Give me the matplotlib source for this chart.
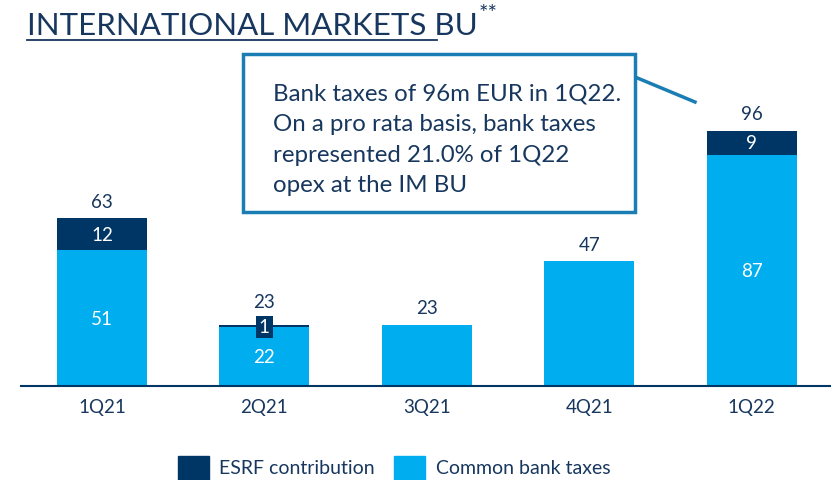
import matplotlib.pyplot as plt
import numpy as np
from matplotlib.patches import Rectangle
from matplotlib.lines import Line2D

plt.rcParams['font.family'] = ['Lato', 'DejaVu Sans']

quarters = ['1Q21', '2Q21', '3Q21', '4Q21', '1Q22']
common_taxes = [51, 22, 23, 47, 87]
esrf = [12, 1, 0, 0, 9]
totals = [63, 23, 23, 47, 96]

navy = '#003666'
light = '#00AEEF'
text_col = '#17375E'
box_col = '#1A7DB4'

fig = plt.figure(figsize=(8.31, 4.81), dpi=100)
W, H = 831, 481
ax = fig.add_axes([21 / W, (H - 387) / H, (W - 21) / W, (387 - 50) / H])

x = np.arange(len(quarters))
width = 0.555
ax.bar(x, common_taxes, width, color=light, zorder=2)
ax.bar(x, esrf, width, bottom=common_taxes, color=navy, zorder=2)

ax.set_xlim(-(102 - 21) / 162.4, (W - 102) / 162.4)
ax.set_ylim(0, 337 / 2.66)
for s in ['top', 'right', 'left']:
    ax.spines[s].set_visible(False)
ax.spines['bottom'].set_color(navy)
ax.spines['bottom'].set_linewidth(1.5)
ax.set_yticks([])
ax.set_xticks(x)
ax.set_xticklabels(quarters, fontsize=13.5, color=text_col)
ax.tick_params(axis='x', length=0, pad=9)

for i in range(len(quarters)):
    c = common_taxes[i]
    e = esrf[i]
    if e > 0:
        ax.text(i, c / 2, str(c), ha='center', va='center', color='white', fontsize=13.5)
    if e >= 5:
        ax.text(i, c + e / 2, str(e), ha='center', va='center', color='white', fontsize=13.5)
    elif e > 0:
        ax.text(i, c + e / 2 - 0.3, str(e), ha='center', va='center', color='white', fontsize=13.5,
                bbox=dict(boxstyle='square,pad=0.15', fc=navy, ec='none'), zorder=4)
    off = 6 if (e == 0 or e >= 5) else 11
    ax.annotate(str(totals[i]), (i, totals[i]), xytext=(0, off), textcoords='offset points',
                ha='center', va='bottom', color=text_col, fontsize=13.5)

# title
fig.text(27 / W, 1 - 26 / H, 'INTERNATIONAL MARKETS BU', fontsize=22.5, color=text_col,
         ha='left', va='center')
fig.text(479 / W, 1 - 14 / H, '**', fontsize=16, color=text_col, ha='left', va='center')
fig.add_artist(Line2D([27 / W, 437 / W], [1 - 41 / H, 1 - 41 / H], color=text_col, lw=1.3))

# callout box
fig.add_artist(Rectangle((243 / W, 1 - 213 / H), (635 - 243) / W, (213 - 55) / H,
                         transform=fig.transFigure, fill=True, fc='white', ec=box_col, lw=2.5,
                         zorder=5))
fig.add_artist(Line2D([635 / W, 695 / W], [1 - 78 / H, 1 - 103 / H], color=box_col, lw=2.5))
note = ('Bank taxes of 96m EUR in 1Q22.\nOn a pro rata basis, bank taxes\n'
        'represented 21.0% of 1Q22\nopex at the IM BU')
fig.text(273 / W, 1 - 84 / H, note, fontsize=17.3, color=text_col, ha='left', va='top',
         linespacing=1.55, zorder=6)

# legend
fig.add_artist(Rectangle((178 / W, 0), 31 / W, 24 / H, transform=fig.transFigure, color=navy))
fig.text(219 / W, 12 / H, 'ESRF contribution', fontsize=14, color=text_col, va='center')
fig.add_artist(Rectangle((394 / W, 0), 31 / W, 24 / H, transform=fig.transFigure, color=light))
fig.text(436 / W, 12 / H, 'Common bank taxes', fontsize=14, color=text_col, va='center')

fig.savefig('out.png', dpi=100)
